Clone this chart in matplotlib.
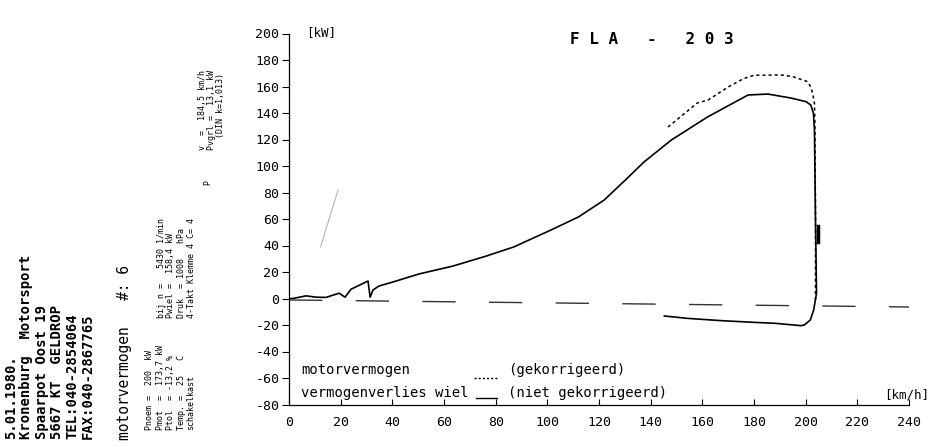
import numpy as np
import matplotlib
matplotlib.use("Agg")
import matplotlib.pyplot as plt

# wheel power (niet gekorrigeerd), run-up and coast-down loop
speed_wheel = [0, 1.5, 6.6, 10.5, 14.3, 19.4, 21.7, 24.0, 29.0, 30.6, 31.4, 32.5, 34.8, 40.3,
               50.3, 63.5, 76.3, 87.0, 101.4, 112.0, 122.0, 131.0, 137.4, 148.0, 162.0,
               177.7, 185.4, 194.3, 200.2, 202.0, 203.0, 203.4, 203.8, 204.2, 203.1, 201.8,
               199.5, 198.2, 188.0, 180.0, 167.2, 154.3, 145.3]
power_wheel = [0, 0, 2.0, 1.0, 0.8, 4.0, 1.0, 7.0, 11.7, 13.2, 1.0, 6.4, 9.4, 12.5,
               18.5, 24.5, 32.0, 38.9, 51.7, 61.5, 74.3, 90.9, 103.0, 119.6, 137.0,
               153.6, 154.3, 151.3, 148.5, 146.0, 139.8, 127.2, 60.0, 4.0, -8.7, -16.2,
               -20.0, -20.5, -18.7, -18.0, -16.7, -15.0, -13.2]

# engine power (gekorrigeerd)
speed_corr = [146.7, 158.0, 162.2, 170.0, 176.0, 180.0, 190.5, 195.0, 200.8, 202.0,
              202.7, 203.4, 203.6, 203.8, 203.8]
power_corr = [129.4, 147.5, 149.8, 159.6, 166.0, 168.5, 168.7, 167.5, 163.6, 159.5,
              154.9, 147.3, 129.7, 60.0, -3.0]

# loss line
speed_loss = [0, 240]
power_loss = [-1.1, -6.4]

# small thick mark on the drop
speed_mark = [204.8, 204.8]
power_mark = [43, 55]

# stray pen line
speed_stray = [12.2, 19.0]
power_stray = [39, 82]

xticks = list(range(0, 241, 20))
yticks = list(range(-80, 201, 20))

W, H = 940, 447
fig = plt.figure(figsize=(W / 100, H / 100), dpi=100)
fig.patch.set_facecolor("white")
ax = fig.add_axes([289 / W, 1 - 404.5 / H, (909 - 289) / W, (404.5 - 33.5) / H])

mono = "DejaVu Sans Mono"

ax.plot(speed_loss, power_loss, color="#333333", lw=1.0, linestyle=(0, (24, 24)))
ax.plot(speed_wheel, power_wheel, color="black", lw=1.2)
ax.plot(speed_corr, power_corr, color="black", lw=1.1, linestyle=(0, (2, 2)))
ax.plot(speed_mark, power_mark, color="black", lw=2.5)
ax.plot(speed_stray, power_stray, color="#aaaaaa", lw=0.7)

ax.set_xlim(0, 240)
ax.set_ylim(-80, 200)
ax.set_xticks(xticks)
ax.set_yticks(yticks)
ax.set_xticklabels([str(v) for v in xticks], fontfamily=mono, fontsize=9.5)
ax.set_yticklabels([str(v) for v in yticks], fontfamily=mono, fontsize=9.5)
ax.tick_params(axis="x", direction="in", length=4, pad=8, width=0.8)
ax.tick_params(axis="y", direction="out", length=5, pad=2, width=0.8)
for s in ["top", "right"]:
    ax.spines[s].set_visible(False)
for s in ["left", "bottom"]:
    ax.spines[s].set_linewidth(0.9)

# legend drawn inside the plot, as on the dyno sheet
ax.text(4.6, -54, "motorvermogen", fontfamily=mono, fontsize=10, va="center")
ax.plot([71.6, 80.9], [-60, -60], color="black", lw=1.0, linestyle=(0, (1.5, 1.5)))
ax.text(84.8, -54, "(gekorrigeerd)", fontfamily=mono, fontsize=10, va="center")
ax.text(4.6, -71.3, "vermogenverlies wiel", fontfamily=mono, fontsize=10, va="center")
ax.plot([72.5, 80.5], [-75, -75], color="black", lw=1.0)
ax.text(84.8, -71.3, "(niet gekorrigeerd)", fontfamily=mono, fontsize=10, va="center")

ax.text(6.6, 200.4, "[kW]", fontfamily=mono, fontsize=9, va="center")
ax.text(247.8, -72.8, "[km/h]", fontfamily=mono, fontsize=9, va="center", ha="right")


def ptext(x, y, s, **kw):
    fig.text(x / W, 1 - y / H, s, **kw)


ptext(652, 40, " ".join("FLA - 203"), fontfamily=mono, fontsize=11.5,
      fontweight="bold", ha="center", va="center")

# rotated header block on the left
head = [
    (11, "5.01.1980."),
    (26, "Kronenburg  Motorsport"),
    (42, "Spaarpot Oost 19"),
    (57, "5667 KT  GELDROP"),
    (72, "TEL:040-2854064"),
    (88, "FAX:040-2867765"),
]
for x, s in head:
    ptext(x, 439, s, fontfamily=mono, fontsize=10, fontweight="bold",
          rotation=90, ha="center", va="bottom")
ptext(125, 440, "motorvermogen   #: 6", fontfamily=mono, fontsize=10.5,
      rotation=90, ha="center", va="bottom")

# test conditions
small = [
    (150, 430, "Pnoem =  200  kW"),
    (161, 430, "Pmot  =  173,7 kW"),
    (170, 430, "Ptol  = -13,2 %"),
    (182, 430, "Temp. =  25   C"),
    (191, 430, "schakelkast"),
    (161, 318, "bij n =   5430 1/min"),
    (170, 318, "Pwiel =  158,4 kW"),
    (182, 318, "Druk  = 1008   hPa"),
    (191, 318, "4-Takt Klemme 4 C= 4"),
    (203, 150, "v  =  184,5 km/h"),
    (212, 150, "Pvgrl =  13,1 kW"),
    (208, 185, "P"),
    (221, 138, "(DIN k=1,013)"),
]
for x, y, s in small:
    ptext(x, y, s, fontfamily=mono, fontsize=6, rotation=90, ha="center", va="bottom")

fig.savefig("out.png", dpi=100, facecolor="white")
